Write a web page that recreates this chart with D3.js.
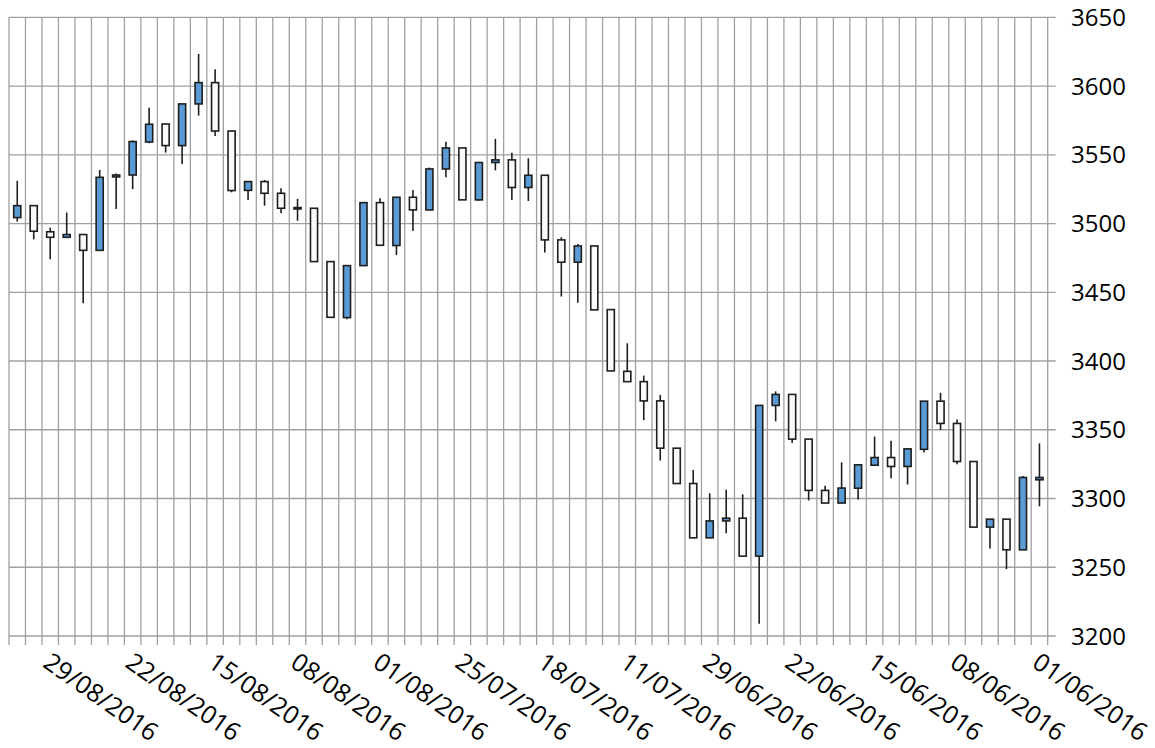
<!DOCTYPE html>
<html>
<head>
<meta charset="utf-8">
<script src="https://cdn.jsdelivr.net/npm/d3@7/dist/d3.min.js"></script>
<style>
html,body{margin:0;padding:0;background:#fff;}
svg{display:block;}
text{font-family:"Open Sans",sans-serif;fill:#000;}
</style>
</head>
<body>
<svg id="chart" width="1155" height="748"></svg>
<script>
const dates = ["31/08/2016","30/08/2016","29/08/2016","26/08/2016","25/08/2016","24/08/2016","23/08/2016","22/08/2016","19/08/2016","18/08/2016","17/08/2016","16/08/2016","15/08/2016","12/08/2016","11/08/2016","10/08/2016","09/08/2016","08/08/2016","05/08/2016","04/08/2016","03/08/2016","02/08/2016","01/08/2016","29/07/2016","28/07/2016","27/07/2016","26/07/2016","25/07/2016","22/07/2016","21/07/2016","20/07/2016","19/07/2016","18/07/2016","15/07/2016","14/07/2016","13/07/2016","12/07/2016","11/07/2016","08/07/2016","07/07/2016","06/07/2016","05/07/2016","29/06/2016","28/06/2016","27/06/2016","24/06/2016","23/06/2016","22/06/2016","21/06/2016","20/06/2016","17/06/2016","16/06/2016","15/06/2016","14/06/2016","13/06/2016","10/06/2016","09/06/2016","08/06/2016","07/06/2016","06/06/2016","03/06/2016","02/06/2016","01/06/2016"];

const open = [3504.3,3513,3494,3490,3492,3480.5,3533.9,3535.3,3559.3,3572.4,3556.7,3587,3602.5,3567.3,3524.1,3530.5,3522,3511.6,3511.1,3472.3,3431.6,3469.4,3515.2,3484,3519.1,3509.9,3539.7,3555,3517.2,3544.4,3546.3,3526.2,3535.1,3488.1,3471.9,3483.7,3437.4,3392.5,3385,3371,3336.6,3310.9,3271.4,3283.7,3285.7,3258.1,3367.7,3375.7,3343.2,3305.9,3296.7,3307.5,3324.2,3329.8,3323.3,3335.8,3370.8,3354.6,3326.9,3279.2,3285,3262.7,3313.6];

const high = [3531,3513,3497,3508,3492,3539,3536.3,3560.5,3584.3,3572.4,3587,3623.4,3612.2,3567.3,3530.5,3531.7,3525.6,3518,3511.1,3472.3,3469.4,3515.2,3518.3,3519.1,3524.4,3540.7,3559.4,3555,3544.4,3561.6,3551.4,3547.5,3535.1,3490,3485.2,3483.7,3437.4,3412.9,3389.4,3375.4,3336.6,3320.8,3303.8,3306.3,3303.1,3367.7,3377.9,3375.7,3343.2,3309.3,3326.3,3324.5,3345.1,3342,3336.1,3370.8,3376.9,3357.5,3326.9,3285,3285,3316.3,3340.1];

const low = [3501.4,3488.5,3474,3490,3442,3480.5,3510.6,3525,3558.4,3551.6,3543.3,3578.5,3563.7,3522.7,3517.2,3513,3507.5,3502,3472.3,3431.8,3430.4,3469.4,3484.2,3477.1,3494.6,3509.9,3533.6,3517.2,3516.5,3538.7,3517.2,3516.4,3478.9,3446.9,3442.3,3437.2,3392.8,3385,3357,3327.6,3310.9,3271.4,3271.4,3274.8,3258.1,3208.9,3356.1,3340.3,3298.6,3296.7,3296.7,3299.3,3324.2,3314.8,3310.2,3333.4,3349.9,3325,3279.2,3263.7,3248.6,3262.7,3294.3];

const close = [3513,3494.4,3490,3492,3480.5,3533.6,3535.3,3559.6,3572.2,3556.7,3587,3602.5,3567.3,3524,3530.5,3522,3511.1,3510.6,3472.3,3431.8,3469.4,3515.2,3484.2,3519.1,3509.9,3539.7,3555,3517.2,3544.4,3546.3,3526.2,3535.1,3488.1,3471.9,3483.7,3437.2,3392.8,3385,3371,3336.6,3310.9,3271.4,3283.7,3285.7,3258.1,3367.7,3375.7,3343.2,3305.9,3296.7,3307.6,3324.5,3329.8,3323.3,3336.1,3370.8,3354.6,3326.9,3279.2,3285,3262.7,3315.3,3315.3];

const yTicks = [3200,3250,3300,3350,3400,3450,3500,3550,3600,3650];
const xLabels = ["29/08/2016","22/08/2016","15/08/2016","08/08/2016","01/08/2016","25/07/2016","18/07/2016","11/07/2016","29/06/2016","22/06/2016","15/06/2016","08/06/2016","01/06/2016"];

(function(){
const rows = dates.map((d,i)=>({date:d, o:open[i], h:high[i], l:low[i], c:close[i]}));

const svg = d3.select("#chart");
const pLeft = 9, pRight = 1047.7, pTop = 17.3, pBottom = 636;

const x = d3.scaleBand().domain(dates).range([pLeft, pRight]).padding(0);
const y = d3.scaleLinear().domain([3200, 3650]).range([pBottom, pTop]);

const gridColor = "#a0a0a0";
const g = svg.append("g");

g.selectAll("line.hg").data(yTicks).join("line")
  .attr("class","hg")
  .attr("x1", pLeft).attr("x2", pRight + 8)
  .attr("y1", d=>y(d)).attr("y2", d=>y(d))
  .attr("stroke", gridColor).attr("stroke-width", 1.3);

const bounds = dates.map(d=>x(d)).concat([pRight]);
g.selectAll("line.vg").data(bounds).join("line")
  .attr("class","vg")
  .attr("x1", d=>d).attr("x2", d=>d)
  .attr("y1", pTop).attr("y2", pBottom + 9)
  .attr("stroke", gridColor).attr("stroke-width", 1.3);

g.selectAll("text.yl").data(yTicks).join("text")
  .attr("class","yl")
  .attr("x", 1071).attr("y", d=>y(d)).attr("dy", "0.36em")
  .attr("font-size", 24).text(d=>d);

g.selectAll("text.xl").data(xLabels).join("text")
  .attr("class","xl")
  .attr("transform", d=>`translate(${x(d)+x.bandwidth()/2-5},${pBottom+25}) rotate(35)`)
  .attr("font-size", 25).attr("dy","0.25em").text(d=>d);

const bw = x.bandwidth()*0.43;
const cx = d => x(d.date) + x.bandwidth()/2;
const stroke = "#1e1e1e";

const candles = svg.append("g").selectAll("g").data(rows).join("g");
candles.append("line")
  .attr("x1", cx).attr("x2", cx)
  .attr("y1", d=>y(d.h)).attr("y2", d=>y(d.l))
  .attr("stroke", stroke).attr("stroke-width", 1.6);
candles.append("rect")
  .attr("x", d=>cx(d)-bw/2).attr("width", bw)
  .attr("y", d=>y(Math.max(d.o,d.c)))
  .attr("height", d=>Math.max(1, Math.abs(y(d.o)-y(d.c))))
  .attr("fill", d=> d.c > d.o ? "#5b9bd5" : "#fafafa")
  .attr("stroke", stroke).attr("stroke-width", 1.6);
})();
</script>
</body>
</html>
